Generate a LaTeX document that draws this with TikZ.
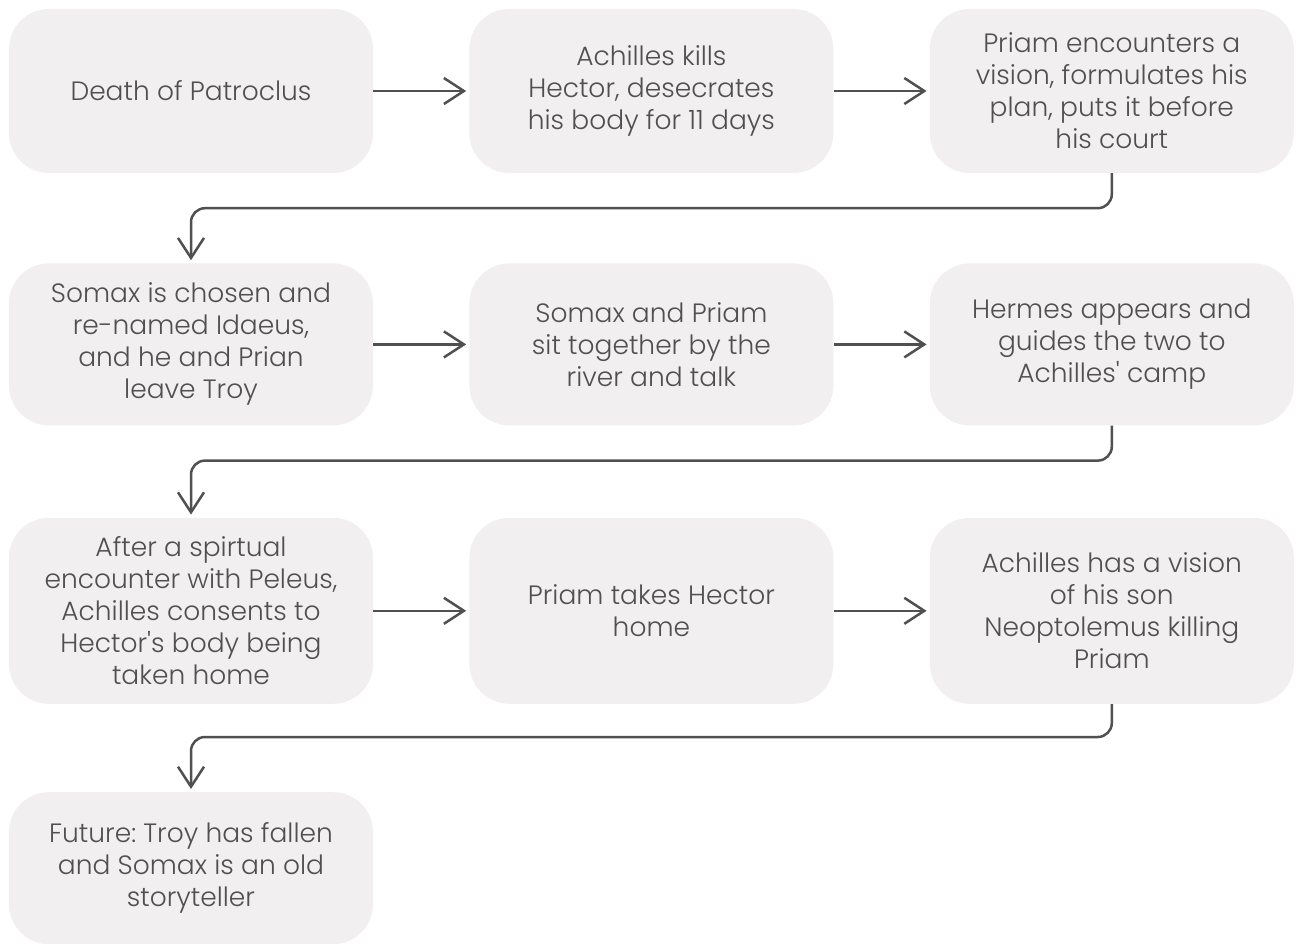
\documentclass[tikz,border=0pt]{standalone}
\usepackage{fontspec}
\setmainfont{Poppins}[UprightFont=* Light]
\usetikzlibrary{positioning,arrows.meta}
\definecolor{boxgray}{RGB}{241,239,240}
\definecolor{linegray}{RGB}{80,80,80}
\begin{document}
\frenchspacing
\begin{tikzpicture}[x=1pt,y=-1pt,
    event/.style={fill=boxgray, rounded corners=40pt, minimum width=364pt,
      align=center, text=linegray, font=\fontsize{26.5}{32}\selectfont},
    flow/.style={draw=linegray, line width=2.5pt,
      -{Straight Barb[length=20pt,width=26pt]}, shorten >=3pt},
    turn/.style={flow, rounded corners=14pt},
  ]
  \useasboundingbox (0,0) rectangle (1300,944);
  % first row
  \node[event, minimum height=164pt] (death) at (191,91) {Death of Patroclus};
  \node[event, minimum height=164pt, right=96pt of death] (kills)
    {Achilles kills\\Hector, desecrates\\his body for 11 days};
  \node[event, minimum height=164pt, right=96pt of kills] (plan)
    {Priam encounters a\\vision, formulates his\\plan, puts it before\\his court};
  % second row
  \node[event, minimum height=162pt, below=90pt of death] (somax)
    {Somax is chosen and\\re-named Idaeus,\\and he and Prian\\leave Troy};
  \node[event, minimum height=162pt, right=96pt of somax] (river)
    {Somax and Priam\\sit together by the\\river and talk};
  \node[event, minimum height=162pt, right=96pt of river] (hermes)
    {Hermes appears and\\guides the two to\\Achilles\textquotesingle\ camp};
  % third row
  \node[event, minimum height=186pt, below=92pt of somax] (consent)
    {After a spirtual\\encounter with Peleus,\\Achilles consents to\\Hector\textquotesingle s body being\\taken home};
  \node[event, minimum height=186pt, right=96pt of consent] (home)
    {Priam takes Hector\\home};
  \node[event, minimum height=186pt, right=96pt of home] (vision)
    {Achilles has a vision\\of his son\\Neoptolemus killing\\Priam};
  % last row
  \node[event, minimum height=152pt, below=88pt of consent] (future)
    {Future: Troy has fallen\\and Somax is an old\\storyteller};

  \draw[flow] (death) -- (kills);
  \draw[flow] (kills) -- (plan);
  \draw[turn] (plan.south) -- ++(0,35) -| (somax.north);
  \draw[flow] (somax) -- (river);
  \draw[flow] (river) -- (hermes);
  \draw[turn] (hermes.south) -- ++(0,35) -| (consent.north);
  \draw[flow] (consent) -- (home);
  \draw[flow] (home) -- (vision);
  \draw[turn] (vision.south) -- ++(0,33) -| (future.north);
\end{tikzpicture}
\end{document}
